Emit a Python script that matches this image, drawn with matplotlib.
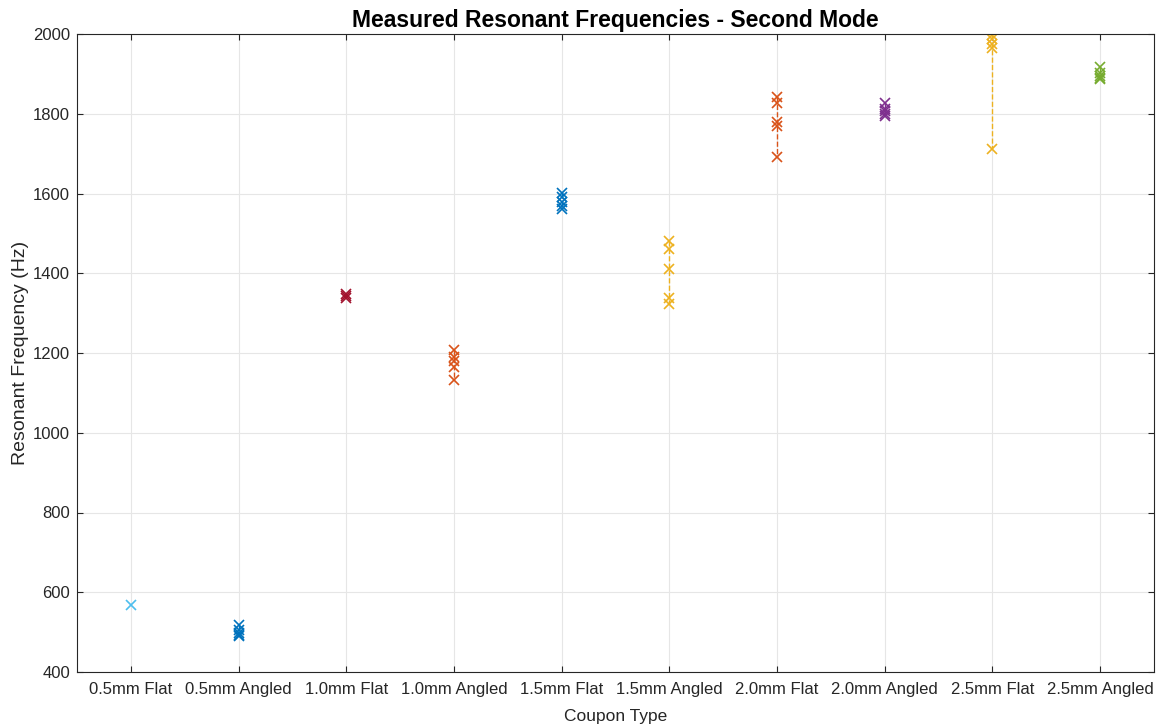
import matplotlib
matplotlib.use("Agg")
import matplotlib.pyplot as plt

plt.rcParams['font.family'] = ['Liberation Sans', 'DejaVu Sans']

categories = ["0.5mm Flat", "0.5mm Angled", "1.0mm Flat", "1.0mm Angled", "1.5mm Flat",
              "1.5mm Angled", "2.0mm Flat", "2.0mm Angled", "2.5mm Flat", "2.5mm Angled"]

f_05_flat = [568]
f_05_angled = [518, 505, 498, 494, 490]
f_10_flat = [1348, 1342, 1338]
f_10_angled = [1207, 1190, 1180, 1165, 1132]
f_15_flat = [1602, 1590, 1578, 1568, 1560]
f_15_angled = [1480, 1462, 1410, 1337, 1322]
f_20_flat = [1842, 1826, 1780, 1770, 1692]
f_20_angled = [1827, 1812, 1806, 1800, 1795]
f_25_flat = [1997, 1987, 1975, 1965, 1711]
f_25_angled = [1917, 1902, 1895, 1890, 1887]

series = [f_05_flat, f_05_angled, f_10_flat, f_10_angled, f_15_flat,
          f_15_angled, f_20_flat, f_20_angled, f_25_flat, f_25_angled]
colors = ["#4DBEEE", "#0072BD", "#A2142F", "#D95319", "#0072BD",
          "#EDB120", "#D95319", "#7E2F8E", "#EDB120", "#77AC30"]

fig = plt.figure(figsize=(11.66, 7.28), dpi=100)
ax = fig.add_axes([77/1166, 1 - 672/728, (1154-77)/1166, (672-34)/728])

for i, (vals, c) in enumerate(zip(series, colors)):
    xs = [i + 1] * len(vals)
    ax.plot(xs, vals, linestyle='--', color=c, linewidth=1.0,
            marker='x', markersize=7, markeredgewidth=1.2)

ax.set_xlim(0.5, 10.5)
ax.set_ylim(400, 2000)
ax.set_xticks(range(1, 11))
ax.set_xticklabels(categories)
ax.set_yticks(range(400, 2001, 200))
ax.grid(True, color='#e6e6e6', linewidth=0.8)
ax.set_axisbelow(True)
ax.tick_params(direction='in', top=True, right=True, labelsize=12, length=4,
               color='#262626', labelcolor='#262626')
ax.tick_params(axis='x', pad=7.5)
ax.tick_params(axis='y', pad=5)
for s in ax.spines.values():
    s.set_color('#262626')
    s.set_linewidth(0.8)

ax.set_xlabel("Coupon Type", fontsize=12.5, color='#262626', labelpad=8)
ax.set_ylabel("Resonant Frequency (Hz)", fontsize=14, color='#262626', labelpad=3)
ax.set_title("Measured Resonant Frequencies - Second Mode", fontsize=16.5,
             fontweight='bold', pad=5)

fig.savefig("out.png", dpi=100)
